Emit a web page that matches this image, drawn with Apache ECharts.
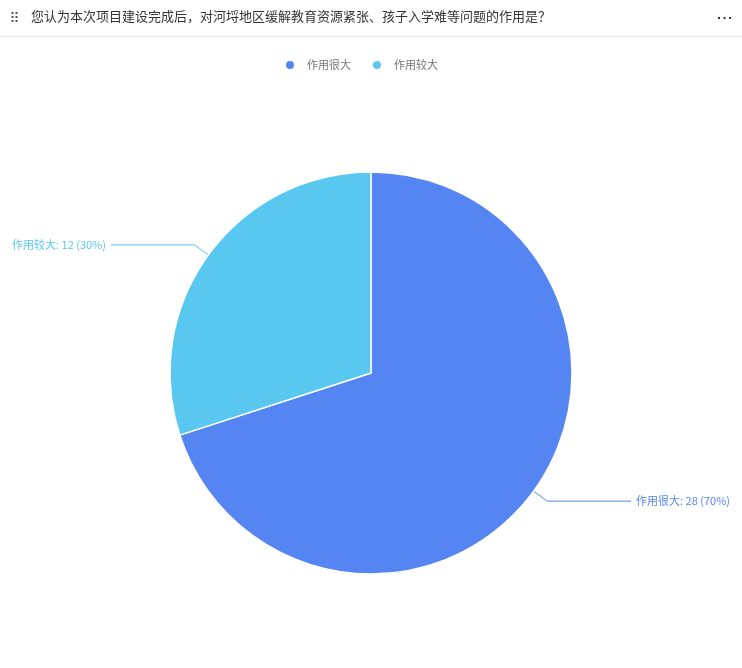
<!DOCTYPE html>
<html><head><meta charset="utf-8">
<script src="https://cdn.jsdelivr.net/npm/echarts@6/dist/echarts.min.js"></script>
<style>html,body{margin:0;padding:0;background:#fff;}#c{width:742px;height:668px;}</style>
</head><body><div id="c"></div>
<script>
const titleText = '您认为本次项目建设完成后，对河埒地区缓解教育资源紧张、孩子入学难等问题的作用是？';
const categories = ['作用很大', '作用较大'];
const values = [28, 12];
const colors = ['#5485F2', '#58C8F1'];

const chart = echarts.init(document.getElementById('c'));
const font = '"Microsoft YaHei","Noto Sans CJK SC",sans-serif';
const deco = [];
[11.5, 15.5].forEach(x => [12, 16, 20].forEach(y => deco.push({ type: 'rect', shape: { x: x, y: y, width: 2, height: 2 }, style: { fill: '#555' } })));
[718, 723.5, 729].forEach(x => deco.push({ type: 'rect', shape: { x: x, y: 17, width: 2, height: 2 }, style: { fill: '#333' } }));
deco.push({ type: 'line', shape: { x1: 0, y1: 36.5, x2: 742, y2: 36.5 }, style: { stroke: '#e4e4e4', lineWidth: 1 } });

chart.setOption({
  animation: false,
  color: colors,
  title: {
    text: titleText, left: 26, top: 5,
    textStyle: { fontSize: 13, fontWeight: 'normal', color: '#333', fontFamily: font }
  },
  graphic: deco,
  legend: {
    top: 54, left: 279, icon: 'circle', itemWidth: 24, itemHeight: 10, itemGap: 20,
    textStyle: { fontSize: 11, color: '#777', fontFamily: font },
    data: categories
  },
  series: [{
    type: 'pie',
    center: [371, 373],
    radius: [0, 201],
    startAngle: 90,
    clockwise: true,
    data: categories.map((n, i) => ({ name: n, value: values[i] })),
    itemStyle: { borderColor: '#fff', borderWidth: 1.5 },
    label: {
      show: true,
      formatter: p => p.name + ': ' + p.value + ' (' + Math.round(p.percent) + '%)',
      fontSize: 11, fontFamily: font, color: 'inherit',
      alignTo: 'edge', edgeDistance: 12
    },
    labelLine: { show: true, length: 17, length2: 10, lineStyle: { width: 1 } },
    emphasis: { disabled: true }
  }]
});
</script></body></html>
